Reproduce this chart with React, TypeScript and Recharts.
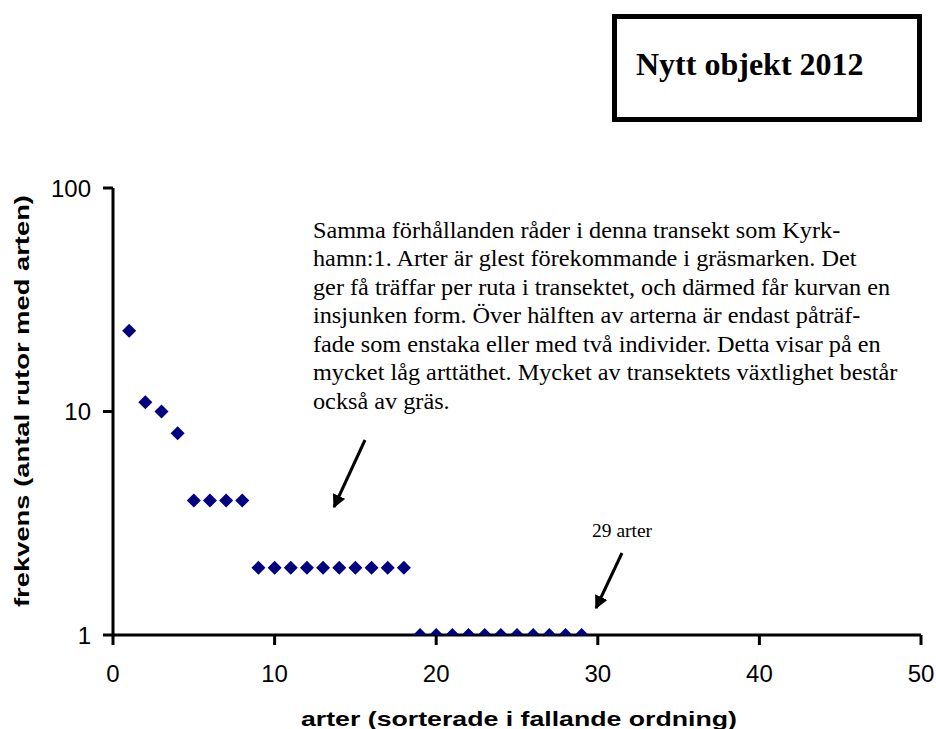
import React from 'react';
import { ScatterChart, Scatter, XAxis, YAxis } from 'recharts';

const species: number[] = [1,2,3,4,5,6,7,8,9,10,11,12,13,14,15,16,17,18,19,20,21,22,23,24,25,26,27,28,29];
const frequency: number[] = [23,11,10,8,4,4,4,4,2,2,2,2,2,2,2,2,2,2,1,1,1,1,1,1,1,1,1,1,1];
const xTicks: number[] = [0,10,20,30,40,50];
const yTicks: number[] = [1,10,100];

const titleText = 'Nytt objekt 2012';
const xTitle = 'arter (sorterade i fallande ordning)';
const yTitle = 'frekvens (antal rutor med arten)';
const noteLines: string[] = [
  'Samma förhållanden råder i denna transekt som Kyrk-',
  'hamn:1. Arter är glest förekommande i gräsmarken. Det',
  'ger få träffar per ruta i transektet, och därmed får kurvan en',
  'insjunken form. Över hälften av arterna är endast påträf-',
  'fade som enstaka eller med två individer. Detta visar på en',
  'mycket låg arttäthet. Mycket av transektets växtlighet består',
  'också av gräs.',
];
const countLabel = '29 arter';

const data = species.map((x, i) => ({ x, y: frequency[i] }));

const Diamond = (props: any) => {
  const { cx, cy } = props;
  if (cx == null || cy == null) return null;
  const r = 7;
  return (
    <polygon
      points={`${cx},${cy - r} ${cx + r},${cy} ${cx},${cy + r} ${cx - r},${cy}`}
      fill="#000080"
    />
  );
};

const tickStyle = { fontFamily: 'Arial, "Liberation Sans", sans-serif', fontSize: 24, fill: '#000' };
const serif = '"Times New Roman", "Liberation Serif", serif';
const sans = 'Arial, "Liberation Sans", sans-serif';

export default function App() {
  return (
    <div style={{ position: 'absolute', left: 0, top: 0, width: 936, height: 729, background: '#fff' }}>
      <ScatterChart
        width={936}
        height={729}
        margin={{ top: 188, right: 15, bottom: 54, left: 13 }}
      >
        <XAxis
          type="number"
          dataKey="x"
          domain={[0, 50]}
          ticks={xTicks}
          interval={0}
          height={40}
          axisLine={{ stroke: '#000', strokeWidth: 3 }}
          tickLine={{ stroke: '#000', strokeWidth: 3 }}
          tickSize={10}
          tickMargin={20}
          tick={tickStyle}
        />
        <YAxis
          type="number"
          dataKey="y"
          scale="log"
          domain={[1, 100]}
          ticks={yTicks}
          interval={0}
          allowDataOverflow
          width={100}
          axisLine={{ stroke: '#000', strokeWidth: 3 }}
          tickLine={{ stroke: '#000', strokeWidth: 3 }}
          tickSize={10}
          tickMargin={12}
          tick={tickStyle}
        />
        <Scatter data={data} shape={Diamond} isAnimationActive={false} />
      </ScatterChart>
      <svg
        width={936}
        height={729}
        style={{ position: 'absolute', left: 0, top: 0, pointerEvents: 'none' }}
      >
        <defs>
          <marker id="ah" viewBox="0 0 10 10" refX="9" refY="5" markerWidth="4.5" markerHeight="4.5" orient="auto">
            <path d="M0,0 L10,5 L0,10 z" fill="#000" />
          </marker>
        </defs>
        <rect x={614.5} y={16.5} width={305} height={103} fill="#fff" stroke="#000" strokeWidth={5} />
        <text x={636} y={75} fontFamily={serif} fontWeight="bold" fontSize={32} fill="#000">
          {titleText}
        </text>
        <g transform="translate(313,0) scale(1.055,1) translate(-313,0)">
          {noteLines.map((t, i) => (
            <text key={i} x={313} y={238 + i * 28.5} fontFamily={serif} fontSize={23} fill="#000">
              {t}
            </text>
          ))}
        </g>
        <text x={592} y={537} fontFamily={serif} fontSize={19.5} fill="#000">
          {countLabel}
        </text>
        <line x1={365} y1={440} x2={334} y2={507} stroke="#000" strokeWidth={3} markerEnd="url(#ah)" />
        <line x1={622} y1={553} x2={596} y2={608} stroke="#000" strokeWidth={3} markerEnd="url(#ah)" />
        <text
          x={519}
          y={726}
          textAnchor="middle"
          fontFamily={sans}
          fontWeight="bold"
          fontSize={21}
          textLength={436}
          lengthAdjust="spacingAndGlyphs"
          fill="#000"
        >
          {xTitle}
        </text>
        <text
          x={0}
          y={0}
          transform="translate(29,401) rotate(-90)"
          textAnchor="middle"
          fontFamily={sans}
          fontWeight="bold"
          fontSize={21}
          textLength={412}
          lengthAdjust="spacingAndGlyphs"
          fill="#000"
        >
          {yTitle}
        </text>
      </svg>
    </div>
  );
}
